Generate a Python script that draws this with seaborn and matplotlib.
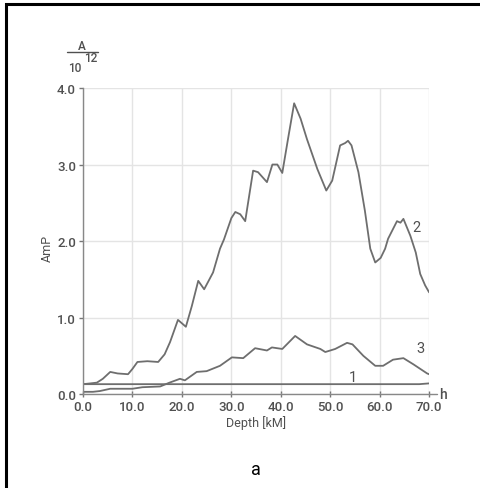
import matplotlib
matplotlib.use("Agg")
import matplotlib.pyplot as plt
import seaborn as sns
import pandas as pd
from matplotlib.patches import Rectangle

# ---- data ----
depth2 = [0, 1.5, 2.8, 4.0, 5.5, 7.0, 9.1, 10.0, 11.0, 13.0, 15.2, 16.5, 17.6, 19.2, 20.8, 22.0,
          23.3, 24.5, 26.3, 27.7, 28.5, 30.0, 30.8, 31.8, 32.8, 34.4, 35.4, 37.2, 38.3, 39.3,
          40.3, 41.5, 42.7, 44.0, 45.3, 47.4, 49.2, 50.4, 52.0, 53.0, 53.6, 54.3, 55.7, 57.0,
          58.1, 59.1, 60.2, 61.1, 61.7, 63.5, 64.2, 64.8, 66.2, 67.3, 68.2, 69.2, 70.0]
amp2 = [0.13, 0.14, 0.15, 0.20, 0.29, 0.27, 0.26, 0.33, 0.42, 0.43, 0.42, 0.52, 0.68, 0.97, 0.88,
        1.15, 1.48, 1.37, 1.59, 1.90, 2.02, 2.30, 2.38, 2.35, 2.26, 2.92, 2.90, 2.77, 3.00, 3.00,
        2.89, 3.35, 3.80, 3.60, 3.33, 2.94, 2.66, 2.79, 3.25, 3.28, 3.31, 3.25, 2.90, 2.40,
        1.90, 1.72, 1.78, 1.90, 2.03, 2.26, 2.24, 2.29, 2.07, 1.85, 1.57, 1.42, 1.33]

depth3 = [0, 2.0, 3.4, 5.5, 8.0, 10.0, 12.0, 15.6, 17.5, 19.6, 20.6, 23.0, 25.0, 27.7, 30.1,
          32.4, 34.8, 37.2, 38.2, 40.3, 42.9, 45.3, 48.0, 49.0, 51.0, 53.4, 54.5, 56.7, 59.1,
          60.7, 62.7, 64.8, 66.8, 69.6, 70.0]
amp3 = [0.03, 0.03, 0.04, 0.07, 0.07, 0.07, 0.09, 0.10, 0.15, 0.20, 0.18, 0.29, 0.30, 0.37, 0.48,
        0.47, 0.60, 0.57, 0.61, 0.59, 0.76, 0.65, 0.59, 0.55, 0.59, 0.67, 0.65, 0.50, 0.37,
        0.37, 0.45, 0.47, 0.39, 0.27, 0.26]

depth1 = [0, 10, 20, 30, 40, 50, 60, 68, 70]
amp1 = [0.13, 0.13, 0.13, 0.13, 0.13, 0.13, 0.13, 0.13, 0.14]

x_ticks = [0, 10, 20, 30, 40, 50, 60, 70]
y_ticks = [0, 1, 2, 3, 4]

df = pd.concat([
    pd.DataFrame({"depth": depth1, "amp": amp1, "curve": "1"}),
    pd.DataFrame({"depth": depth2, "amp": amp2, "curve": "2"}),
    pd.DataFrame({"depth": depth3, "amp": amp3, "curve": "3"}),
])

sns.set_theme(style="white")
plt.rcParams["font.family"] = ["Roboto", "DejaVu Sans"]

fig = plt.figure(figsize=(4.8, 4.89), dpi=100)
ax = fig.add_axes([0.173, 0.192, 0.721, 0.626])

line_color = "#6e6e6e"
text_color = "#505050"
grid_color = "#e4e4e4"

sns.lineplot(data=df, x="depth", y="amp", hue="curve",
             palette={"1": line_color, "2": line_color, "3": line_color},
             linewidth=1.3, legend=False, ax=ax, sort=False, estimator=None)

ax.set_xlim(0, 70)
ax.set_ylim(0, 4)
ax.set_xticks(x_ticks)
ax.set_yticks(y_ticks)
ax.set_xticklabels([f"{t:.1f}" for t in x_ticks])
ax.set_yticklabels([f"{t:.1f}" for t in y_ticks])
ax.grid(True, color=grid_color, linewidth=1.0)
ax.set_axisbelow(True)

for s in ["top", "right"]:
    ax.spines[s].set_visible(False)
for s in ["left", "bottom"]:
    ax.spines[s].set_color("#888888")
    ax.spines[s].set_linewidth(1.0)

ax.tick_params(axis="x", direction="inout", length=5, width=1, color="#777777",
               labelsize=9.5, labelcolor=text_color, pad=2)
ax.tick_params(axis="y", direction="out", length=3, width=1, color="#777777",
               labelsize=9.5, labelcolor=text_color, pad=2, left=True)
ax.tick_params(axis="x", bottom=True)
for lab in ax.get_xticklabels() + ax.get_yticklabels():
    lab.set_fontweight("medium")

ax.set_xlabel("Depth [kM]", fontsize=9, color=text_color, labelpad=1)
ax.set_ylabel("AmP", fontsize=9, color=text_color, labelpad=4)
ax.yaxis.set_label_coords(-0.085, 0.48)

# extension of x axis with "h"
ax.plot([1.0, 1.022], [0, 0], transform=ax.transAxes, color="#888888",
        linewidth=1.0, clip_on=False)
ax.text(1.03, 0.0, "h", transform=ax.transAxes, fontsize=10, color=text_color,
        ha="left", va="center", fontweight="medium")

# curve labels
ax.text(67.4, 2.18, "2", fontsize=10.5, color=text_color, ha="center", va="center")
ax.text(68.2, 0.60, "3", fontsize=10.5, color=text_color, ha="center", va="center")
ax.text(54.5, 0.22, "1", fontsize=10.5, color=text_color, ha="center", va="center")

# units A / 10^12
fig.text(82 / 480, 1 - 46 / 489, "A", fontsize=8.5, color=text_color, ha="center", va="center",
         fontweight="medium")
fig.add_artist(plt.Line2D([67 / 480, 98 / 480], [1 - 53 / 489, 1 - 53 / 489],
                          color=text_color, linewidth=1.0))
fig.text(75 / 480, 1 - 68 / 489, "10", fontsize=8.5, color=text_color, ha="center", va="center",
         fontweight="medium")
fig.text(91 / 480, 1 - 59 / 489, "12", fontsize=8.5, color=text_color, ha="center", va="center",
         fontweight="medium")

# panel letter
fig.text(256 / 480, 1 - 470 / 489, "a", fontsize=13, color="black", ha="center", va="center")

# outer frame (left and top visible)
fig.add_artist(Rectangle((6 / 480, -0.05), 1.2, 1 - 5 / 489 + 0.05, transform=fig.transFigure,
                         fill=False, edgecolor="black", linewidth=2.2))

fig.savefig("out.png", dpi=100)
